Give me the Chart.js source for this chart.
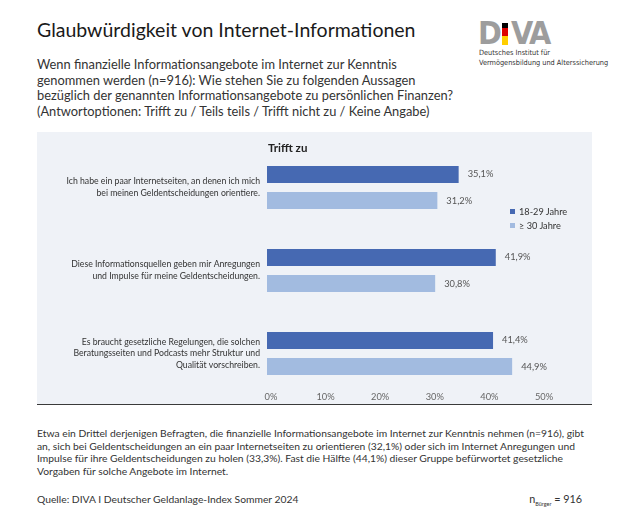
<!DOCTYPE html>
<html lang="de">
<head>
<meta charset="utf-8">
<script src="https://cdn.jsdelivr.net/npm/chart.js@4.4.1/dist/chart.umd.min.js"></script>
<style>
body{margin:0;width:630px;height:530px;background:#fff;font-family:Lato,"Noto Sans",sans-serif;position:relative;overflow:hidden}
.abs{position:absolute;white-space:nowrap}
#titel{left:37px;top:18px;font-size:19.5px;color:#1a1a1a}
#frage{left:37px;top:57px;font-size:12.85px;line-height:15.7px;color:#333}
#panel{left:37px;top:132px;width:555px;height:272px;background:#eff2f7;border-bottom:1.6px solid #3a3a3a}
#chartbox{left:37px;top:132px;width:555px;height:272px}
#trifft{left:268px;top:141px;font-size:11.5px;font-weight:bold;color:#222}
.leg{font-size:9.2px;color:#333}
.leg i{display:inline-block;width:5px;height:5px;margin-right:4px;vertical-align:1px}
#text{left:37px;top:427px;font-size:10.3px;line-height:12.7px;color:#333}
#quelle{left:37px;top:493px;font-size:10.3px;color:#333}
#nb{right:48px;top:492px;font-size:10.8px;color:#333}
#nb sub{font-size:5.5px;vertical-align:-3px}
.logo{font-family:"Liberation Sans Narrow","DejaVu Sans Condensed",sans-serif;font-weight:bold;font-size:32px;color:#9d9d9d;top:14px;line-height:38px}
.flag{left:502px;width:6px}
.klein{font-family:"DejaVu Sans Condensed","Liberation Sans Narrow",sans-serif;font-size:7.3px;color:#333;left:479px}
</style>
</head>
<body>

<div class="abs" id="titel">Glaubwürdigkeit von Internet-Informationen</div>
<div class="abs" id="frage">Wenn finanzielle Informationsangebote im Internet zur Kenntnis<br>genommen werden (n=916): Wie stehen Sie zu folgenden Aussagen<br>bezüglich der genannten Informationsangebote zu persönlichen Finanzen?<br>(Antwortoptionen: Trifft zu / Teils teils / Trifft nicht zu / Keine Angabe)</div>

<div class="abs logo" style="left:478px">D</div>
<div class="abs flag" style="top:23px;height:5px;background:#000"></div>
<div class="abs flag" style="top:28px;height:8px;background:#dd0000"></div>
<div class="abs flag" style="top:36px;height:9px;background:#ffce00"></div>
<div class="abs logo" style="left:511px">V</div>
<div class="abs logo" style="left:529px">A</div>
<div class="abs klein" style="top:48px">Deutsches Institut für</div>
<div class="abs klein" style="top:58px">Vermögensbildung und Alterssicherung</div>

<div class="abs" id="panel"></div>
<div class="abs" id="chartbox"><canvas id="grafico" width="555" height="272"></canvas></div>
<div class="abs" id="trifft">Trifft zu</div>
<div class="abs leg" id="leg0" style="left:510px;top:206px"></div>
<div class="abs leg" id="leg1" style="left:510px;top:220px"></div>

<div class="abs" id="text">Etwa ein Drittel derjenigen Befragten, die finanzielle Informationsangebote im Internet zur Kenntnis nehmen (n=916), gibt<br>an, sich bei Geldentscheidungen an ein paar Internetseiten zu orientieren (32,1%) oder sich im Internet Anregungen und<br>Impulse für ihre Geldentscheidungen zu holen (33,3%). Fast die Hälfte (44,1%) dieser Gruppe befürwortet gesetzliche<br>Vorgaben für solche Angebote im Internet.</div>
<div class="abs" id="quelle">Quelle: DIVA I Deutscher Geldanlage-Index Sommer 2024</div>
<div class="abs" id="nb">n<sub>Bürger</sub> = 916</div>

<script>
let aussagen=[
["Ich habe ein paar Internetseiten, an denen ich mich","bei meinen Geldentscheidungen orientiere."],
["Diese Informationsquellen geben mir Anregungen","und Impulse für meine Geldentscheidungen."],
["Es braucht gesetzliche Regelungen, die solchen","Beratungsseiten und Podcasts mehr Struktur und","Qualität vorschreiben."]
]
let gruppen=["18-29 Jahre","≥ 30 Jahre"]
let jung=[35.1,41.9,41.4]
let alt=[31.2,30.8,44.9]
let farben=["#4669b2","#a2bbe0"]
let achseMax=50
let achseSchritt=10

let werteLabels={
id:"werteLabels",
afterDatasetsDraw(chart){
let ctx=chart.ctx
ctx.save()
ctx.font="9.3px Lato"
ctx.fillStyle="#555"
ctx.textBaseline="middle"
chart.data.datasets.forEach((ds,i)=>{
chart.getDatasetMeta(i).data.forEach((bar,j)=>{
ctx.fillText(ds.data[j].toFixed(1).replace(".",",")+"%",bar.x+9,bar.y)
})
})
ctx.restore()
}
}

// mirror: die Prozentlabels liegen knapp in der Zeichenfläche (wie im Original)
let grafico=new Chart(document.getElementById("grafico"),{
type:"bar",
data:{
labels:aussagen,
datasets:[
{label:gruppen[0],data:jung,backgroundColor:farben[0],barPercentage:0.65,categoryPercentage:0.627},
{label:gruppen[1],data:alt,backgroundColor:farben[1],barPercentage:0.65,categoryPercentage:0.627}
]
},
options:{
indexAxis:"y",
responsive:false,
animation:false,
layout:{padding:{top:14,right:52,left:0,bottom:0}},
plugins:{legend:{display:false},tooltip:{enabled:false}},
scales:{
x:{
min:0,max:achseMax,
grid:{display:false,drawTicks:false},
border:{display:false},
ticks:{stepSize:achseSchritt,mirror:true,padding:-7.5,labelOffset:4,color:"#666",font:{family:"Lato",size:9.3},callback:v=>v+"%"},
afterFit:s=>{s.height=9;s.paddingLeft=0;s.paddingRight=0}
},
y:{
grid:{display:false,drawTicks:false},
border:{display:false},
ticks:{padding:7,color:"#333",font:{family:"Lato",size:8.7,lineHeight:1.35}},
afterFit:s=>{s.width=230;s.paddingTop=0;s.paddingBottom=0}
}
}
},
plugins:[werteLabels]
})

gruppen.forEach((g,i)=>{
document.getElementById("leg"+i).innerHTML='<i style="background:'+farben[i]+'"></i>'+g
})
</script>
</body>
</html>
